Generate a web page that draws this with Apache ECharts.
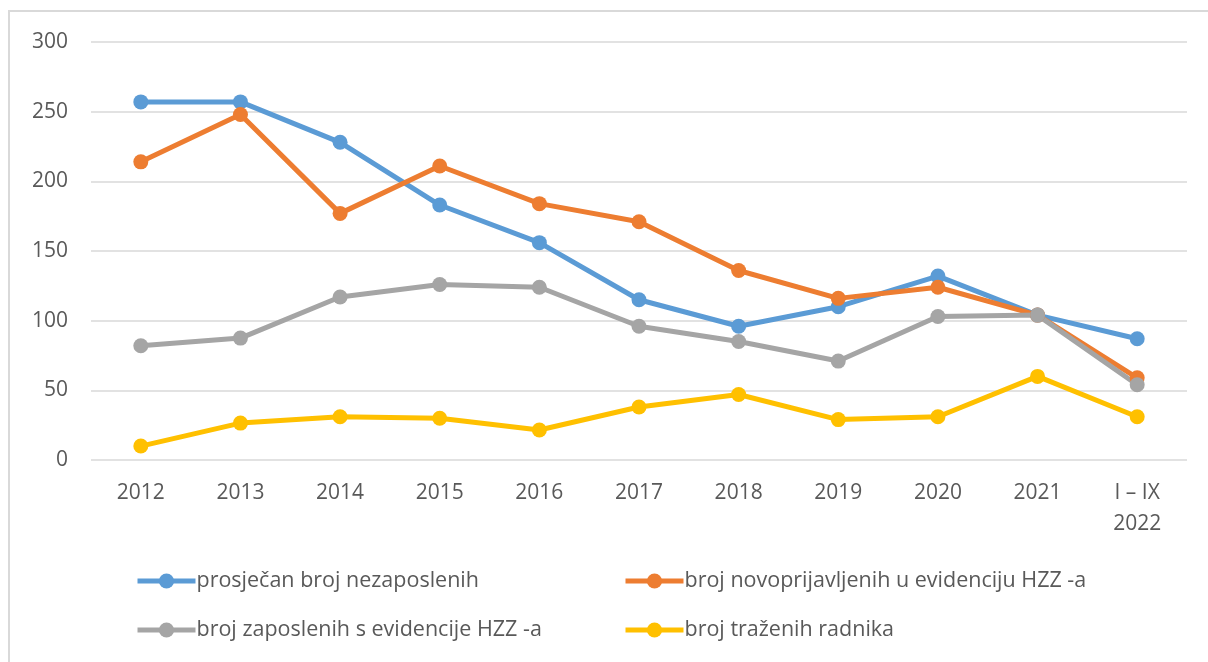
<!DOCTYPE html>
<html><head><meta charset="utf-8">
<script src="https://cdn.jsdelivr.net/npm/echarts@6/dist/echarts.min.js"></script>
<style>html,body{margin:0;padding:0;background:#fff}#c{width:1208px;height:662px}</style>
</head><body><div id="c"></div>
<script>
const categories = ['2012','2013','2014','2015','2016','2017','2018','2019','2020','2021','I – IX\n2022'];
const seriesNames = ['prosječan broj nezaposlenih','broj novoprijavljenih u evidenciju HZZ -a','broj zaposlenih s evidencije HZZ -a','broj traženih radnika'];
const prosjecan = [257, 257, 228, 183, 156, 115, 96, 110, 132, 104, 87];
const novoprijavljeni = [214, 248, 177, 211, 184, 171, 136, 116, 124, 104, 59];
const zaposleni = [82, 87.5, 117, 126, 124, 96, 85, 71, 103, 104, 54];
const trazeni = [10, 26.5, 31, 30, 21.5, 38, 47, 29, 31, 60, 31];
const yTicks = {min: 0, max: 300, interval: 50};

const colors = ['#5B9BD5', '#ED7D31', '#A5A5A5', '#FFC000'];
const values = [prosjecan, novoprijavljeni, zaposleni, trazeni];
const font = 'Open Sans, Noto Sans, sans-serif';

const chart = echarts.init(document.getElementById('c'));
const legendPos = [[130, 565], [618, 565], [130, 614], [618, 614]];
chart.setOption({
  animation: false,
  color: colors,
  textStyle: {fontFamily: font},
  graphic: [{type: 'rect', shape: {x: 9, y: 11, width: 1300, height: 700}, style: {fill: null, stroke: '#d9d9d9', lineWidth: 2}, silent: true}],
  grid: {left: 91, right: 21, top: 42, bottom: 202, containLabel: false},
  legend: seriesNames.map((n, i) => ({
    data: [n], left: legendPos[i][0], top: legendPos[i][1],
    itemWidth: 58, itemHeight: 19, itemGap: 0, padding: 5,
    lineStyle: {width: 5},
    textStyle: {fontSize: 21.5, color: '#595959', fontFamily: font, padding: [0, 0, 0, -4]}
  })),
  xAxis: {
    type: 'category', data: categories, boundaryGap: true,
    axisLine: {show: false}, axisTick: {show: false},
    axisLabel: {fontSize: 21, color: '#595959', margin: 18, lineHeight: 31, fontFamily: font, interval: 0}
  },
  yAxis: {
    type: 'value', min: yTicks.min, max: yTicks.max, interval: yTicks.interval,
    axisLine: {show: false}, axisTick: {show: false},
    splitLine: {lineStyle: {color: '#d9d9d9', width: 1.5}},
    axisLabel: {fontSize: 21, color: '#595959', margin: 23, fontFamily: font}
  },
  series: seriesNames.map((n, i) => ({
    name: n, type: 'line', data: values[i],
    symbol: 'circle', symbolSize: 15,
    lineStyle: {width: 5, color: colors[i]},
    itemStyle: {color: colors[i]}
  }))
});
</script></body></html>
